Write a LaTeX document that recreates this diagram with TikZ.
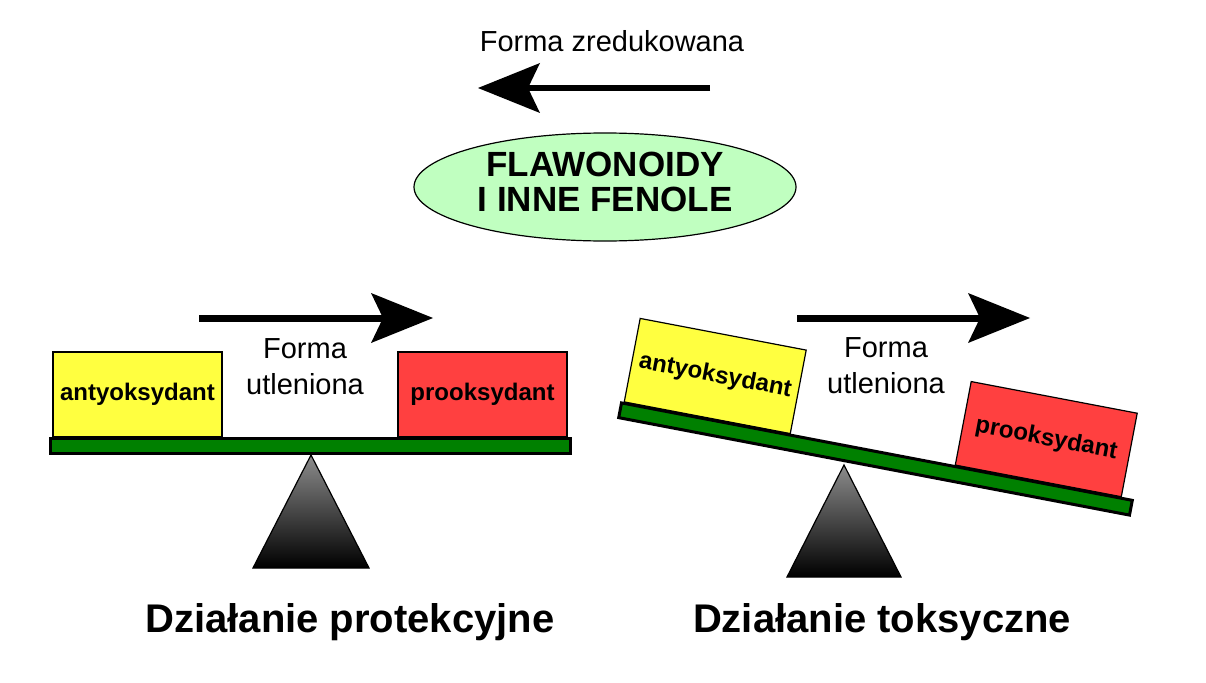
\documentclass[tikz,border=0pt]{standalone}
\usepackage{fontspec}
\setmainfont{Liberation Sans}
\usetikzlibrary{arrows.meta,shapes.geometric}

\definecolor{boxyellow}{RGB}{255,255,64}
\definecolor{boxred}{RGB}{255,64,64}
\definecolor{bargreen}{RGB}{0,128,0}
\definecolor{ovalgreen}{RGB}{192,255,192}

\begin{document}
\begin{tikzpicture}[x=1pt, y=-1pt,
    weightbox/.style = {draw, line width=1.2pt, minimum width=169pt, minimum height=85pt, inner sep=0pt, font=\fontsize{24}{28}\selectfont\bfseries},
    beam/.style = {draw, fill=bargreen, line width=3pt, minimum width=520pt, minimum height=15pt, inner sep=0pt},
    fulcrum/.style = {draw, line width=1.2pt, top color=black!45, bottom color=black},
    formtext/.style = {align=center, font=\fontsize{29}{36}\selectfont},
    heading/.style = {anchor=base, font=\fontsize{40}{48}\selectfont\bfseries},
    flow/.style = {line width=#1, -{Stealth[length=62pt, width=50pt, inset=12pt, line width=0pt]}}]
    \useasboundingbox (0,0) rectangle (1206,682);

    % reduced form, going back
    \node (reduced) at (612,52) [anchor=base, font=\fontsize{29}{36}\selectfont] {Forma zredukowana};
    \coordinate (redtail) at (710,88);
    \coordinate (redtip) at (478,88);
    \draw[flow=6pt] (redtail) -- (redtip);

    \node[ellipse, draw, fill=ovalgreen, line width=1.2pt, minimum width=382pt, minimum height=108pt, inner sep=0pt,
          align=center, font=\fontsize{35}{35}\selectfont\bfseries] (phenols) at (605,187)
          {FLAWONOIDY\\I INNE FENOLE\rule[-10pt]{0pt}{0pt}};

    % left balance: level
    \node[weightbox, fill=boxyellow] (antyL) at (137.5,394.5) {antyoksydant};
    \node[weightbox, fill=boxred] (proL) at (482.5,394.5) {prooksydant};
    \node[beam] (beamL) at (310.5,446) {};
    \coordinate (apexL) at (311,455);
    \shadedraw[fulcrum] (apexL) -- ++(58,113) -- ++(-116,0) -- cycle;

    \node[formtext] (oxL) at (305,367) {Forma\\utleniona};
    \coordinate (oxLtail) at (199,318);
    \coordinate (oxLtip) at (433,318);
    \draw[flow=7pt] (oxLtail) -- (oxLtip);

    % right balance: tipped
    \begin{scope}[shift={(565,13)}, rotate around={-10.8:(310.5,446)}, transform shape]
        \node[weightbox, fill=boxyellow] (antyR) at (137.5,394.5) {antyoksydant};
        \node[weightbox, fill=boxred] (proR) at (474.5,394.5) {prooksydant};
        \node[beam] (beamR) at (310.5,446) {};
    \end{scope}
    \coordinate (apexR) at (844,465);
    \shadedraw[fulcrum] (apexR) -- ++(57,112) -- ++(-114,0) -- cycle;

    \node[formtext] (oxR) at (886,366) {Forma\\utleniona};
    \coordinate (oxRtail) at (797,318);
    \coordinate (oxRtip) at (1030,318);
    \draw[flow=7pt] (oxRtail) -- (oxRtip);

    \node[heading] (protect) at (350,632) {Działanie protekcyjne};
    \node[heading] (toxic) at (882,632) {Działanie toksyczne};
\end{tikzpicture}
\end{document}
